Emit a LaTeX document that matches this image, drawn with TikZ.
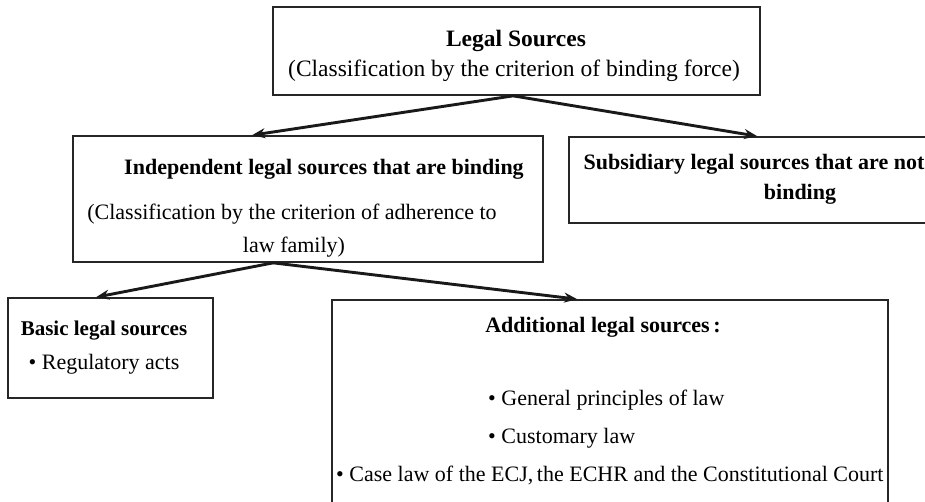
\documentclass[tikz,border=0pt]{standalone}
\usepackage{fontspec}
\setmainfont{Liberation Serif}
\usetikzlibrary{arrows.meta,calc}
\tikzset{
  box/.style={draw=black!85, line width=1.7pt, rectangle, inner sep=0pt},
  txt/.style={inner sep=0pt, anchor=base, font=\fontsize{22}{25}\selectfont},
  btxt/.style={txt, font=\fontsize{22}{25}\selectfont\bfseries},
  bigtxt/.style={txt, font=\fontsize{23.5}{26}\selectfont},
  bigbtxt/.style={txt, font=\fontsize{23.5}{26}\selectfont\bfseries},
  conn/.style={line width=2.9pt, draw=black!90, -{Stealth[length=13pt,width=10pt]}}
}
\begin{document}
\begin{tikzpicture}[x=1pt,y=-1pt]
\useasboundingbox (0,0) rectangle (925,501);
% boxes
\node[box, minimum width=487pt, minimum height=88pt] (top) at (516.5,51) {};
\node[box, minimum width=470pt, minimum height=126pt] (ind) at (308,199) {};
\node[box, minimum width=400pt, minimum height=86pt] (sub) at (769,180) {};
\node[box, minimum width=205pt, minimum height=100pt] (bas) at (110.5,348) {};
\node[box, minimum width=556pt, minimum height=240pt] (add) at (610,420) {};
% texts
\node[bigbtxt] (t1) at (516,46) {Legal Sources};
\node[bigtxt] (t2) at (514,76) {(Classification by the criterion of binding force)};
\node[btxt] (t3) at (324,174) {Independent legal sources that are binding};
\node[txt] (t4) at (292,219) {(Classification by the criterion of adherence to};
\node[txt] (t5) at (294,252) {law family)};
\node[btxt] (t6) at (754,169) {Subsidiary legal sources that are not};
\node[btxt] (t7) at (800,199) {binding};
\node[btxt, font=\fontsize{21}{24}\selectfont\bfseries] (t8) at (104,335) {Basic legal sources};
\node[txt] (t9) at (104,369) {\textbullet{} Regulatory acts};
\node[btxt] (t10) at (603,332) {Additional legal sources\,:};
\node[txt, anchor=base west] (t11) at (488,405) {\textbullet{} General principles of law};
\node[txt, anchor=base west] (t12) at (488,443) {\textbullet{} Customary law};
\node[txt, anchor=base west] (t13) at (336,481) {\textbullet{} Case law of the ECJ,\,the ECHR and the Constitutional Court};
% connectors
\coordinate (s1) at ($(top.south west)+(241,0)$);
\coordinate (e1) at ($(ind.north west)+(180,0)$);
\coordinate (e2) at ($(sub.north west)+(189,0)$);
\draw[conn] (s1) -- (e1);
\draw[conn] (s1) -- (e2);
\coordinate (s2) at ($(ind.south west)+(201,0)$);
\coordinate (e3) at ($(bas.north west)+(89,0)$);
\coordinate (e4) at ($(add.north west)+(246,0)$);
\draw[conn] (s2) -- (e3);
\draw[conn] (s2) -- (e4);
\end{tikzpicture}
\end{document}
